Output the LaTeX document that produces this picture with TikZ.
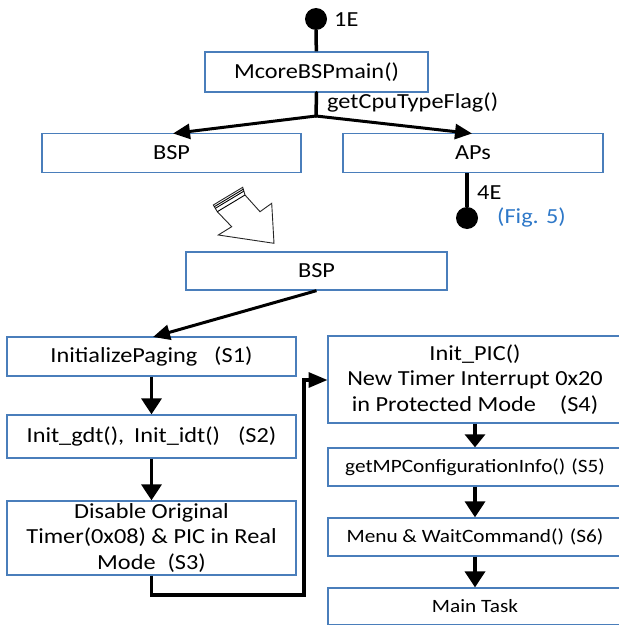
\documentclass[tikz,border=0pt]{standalone}
\usepackage{fontspec}
\setmainfont{Carlito}[FakeStretch=1.13]
\usetikzlibrary{arrows.meta,calc}
\definecolor{boxblue}{HTML}{4A7EBB}
\definecolor{figblue}{HTML}{2E78C8}
\newcommand\mainsz{\fontsize{21.5}{25.4}\selectfont}
\newcommand\smallsz{\fontsize{18.8}{22}\selectfont}
\tikzset{
  box/.style={draw=boxblue, line width=1.3pt, inner sep=0pt, align=center,
    font=\mainsz, text=black},
  smallbox/.style={box, font=\smallsz},
  dot/.style={circle, fill=black, inner sep=0pt, minimum size=22pt},
  lbl/.style={anchor=west, inner sep=0pt, font=\mainsz},
  flow/.style={line width=3pt, -{Triangle[length=17pt,width=15pt]}},
  drop/.style={line width=3.5pt, -{Triangle[length=16pt,width=20pt]}},
  shortdrop/.style={line width=3.5pt, -{Triangle[length=13pt,width=20pt]}},
  stem/.style={line width=3.5pt},
  hollow/.style={draw=black!85, line width=0.9pt, fill=white, line join=miter}
}
\begin{document}
\begin{tikzpicture}[x=1pt,y=-1pt]
\useasboundingbox (0,0) rectangle (618,626);

% entry point and main routine
\node[dot] (e1) at (316,19) {};
\node[lbl] (l1e) at (334,20) {1E};
\node[box, minimum width=223pt, minimum height=40pt] (mcore) at (316.5,72) {McoreBSPmain()};
\draw[stem] (e1) -- (mcore);

\coordinate (split) at (316,116);
\node[lbl] (lflag) at (327,102) {getCpuTypeFlag()};
\draw[stem, line cap=round] (mcore.south) -- (split);

% processor split
\node[box, minimum width=259pt, minimum height=39pt] (bsp1) at (171.5,153) {BSP};
\node[box, minimum width=260pt, minimum height=39pt] (aps) at (473,153) {APs};
\coordinate (bspin) at (173,133.5);
\coordinate (apsin) at (472,133.5);
\draw[flow] (split) -- (bspin);
\draw[flow] (split) -- (apsin);

% application processors exit
\node[dot] (e4) at (467,218) {};
\draw[line width=3.3pt] (aps.south -| e4) -- (e4);
\node[lbl] (l4e) at (477,193) {4E};
\node[lbl, text=figblue] (lfig) at (497,217) {(Fig. 5)};

% striped block arrow
\coordinate (sL) at (213.3,205);
\coordinate (sR) at (242.7,187.3);
\coordinate (bL) at (217.3,211.7);
\coordinate (bR) at (245,195);
\coordinate (jR) at (260,211.7);
\coordinate (hR) at (271.7,203.3);
\coordinate (tip) at (274,243.3);
\coordinate (hL) at (218.3,235);
\coordinate (jL) at (231.7,226.7);
\draw[hollow] (sL) -- (sR) -- (bR) -- (jR) -- (hR) -- (tip) -- (hL) -- (jL) -- (bL) -- cycle;
\draw[line width=0.9pt] ($(sL)!0.25!(bL)$) -- ($(sR)!0.25!(bR)$);
\draw[line width=0.9pt] ($(sL)!0.5!(bL)$) -- ($(sR)!0.5!(bR)$);
\draw[line width=0.9pt] (bL) -- (bR);

% bootstrap processor sequence
\node[box, minimum width=261pt, minimum height=38pt] (bsp2) at (316.5,271) {BSP};

\node[box, minimum width=289pt, minimum height=39pt] (s1) at (151.5,356.5)
  {InitializePaging\hspace{17pt}(S1)};
\node[box, minimum width=289pt, minimum height=43pt] (s2) at (151.5,436.5)
  {Init\_gdt(),\hspace{10pt}Init\_idt()\hspace{18pt}(S2)};
\node[box, minimum width=289pt, minimum height=74pt] (s3) at (151.5,538)
  {Disable Original\\Timer(0x08) \& PIC in Real\\Mode\hspace{12pt}(S3)};

\coordinate (s1in) at (153,337);
\draw[flow] (bsp2.south) -- (s1in);
\draw[drop] (s1.south) -- (s2.north);
\draw[drop] (s2.south) -- (s3.north);

\node[box, minimum width=294pt, minimum height=87pt] (s4) at (475,379.5)
  {Init\_PIC()\\New Timer Interrupt 0x20\\in Protected Mode\hspace{24pt}(S4)};
\node[smallbox, minimum width=294pt, minimum height=38pt] (s5) at (475,467)
  {getMPConfigurationInfo()\hspace{6pt}(S5)};
\node[smallbox, minimum width=294pt, minimum height=38pt] (s6) at (475,537)
  {Menu \& WaitCommand()\hspace{6pt}(S6)};
\node[smallbox, minimum width=294pt, minimum height=36.5pt] (task) at (475,606.3)
  {Main Task};

\coordinate (bend) at (304,595);
\coordinate (s4in) at (327.5,380);
\draw[flow, line width=3.3pt, -{Triangle[length=19pt,width=15pt]}] (s3.south) |- (bend) |- (s4in);

\draw[shortdrop] (s4.south) -- (s5.north);
\draw[drop] (s5.south) -- (s6.north);
\draw[drop] (s6.south) -- (task.north);
\end{tikzpicture}
\end{document}
